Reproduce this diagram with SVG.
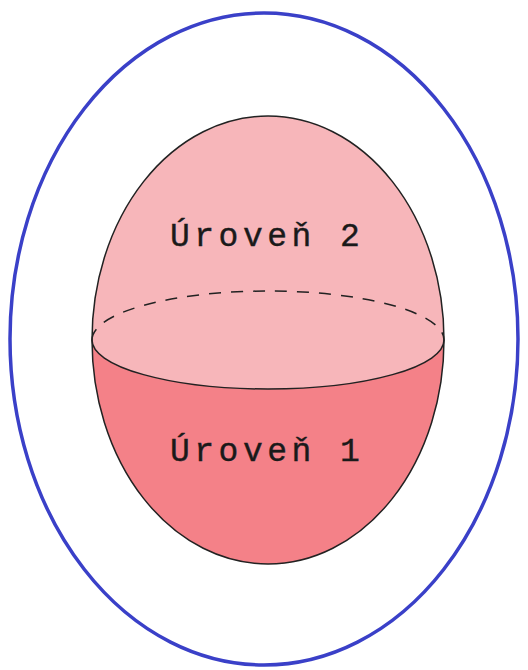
<svg xmlns="http://www.w3.org/2000/svg" width="528" height="670" viewBox="0 0 528 670">
<style>
.lbl{font-family:"Liberation Mono","DejaVu Sans Mono",monospace;font-size:33px;fill:#1a1a1a;stroke:#1a1a1a;stroke-width:0.4;letter-spacing:4.5px}
.edge{stroke:#222;stroke-width:1.5;fill:none}
</style>
<rect width="528" height="670" fill="#fff"/>
<g id="outer">
<ellipse cx="264" cy="339" rx="254" ry="326" fill="none" stroke="#3a40c8" stroke-width="3.5"/>
</g>
<g id="level2">
<ellipse cx="268" cy="340" rx="176" ry="224" fill="#f7b6ba"/>
<path class="edge" d="M92 340 A176 49 0 0 1 444 340" stroke-dasharray="12 10"/>
<text class="lbl" x="170" y="246">Úroveň 2</text>
</g>
<g id="level1">
<path d="M92 340 A176 49 0 0 0 444 340 A176 224 0 0 1 92 340 Z" fill="#f48188"/>
<path class="edge" d="M92 340 A176 49 0 0 0 444 340"/>
<text class="lbl" x="170" y="461">Úroveň 1</text>
</g>
<g id="outline">
<ellipse class="edge" cx="268" cy="340" rx="176" ry="224"/>
</g>
</svg>
